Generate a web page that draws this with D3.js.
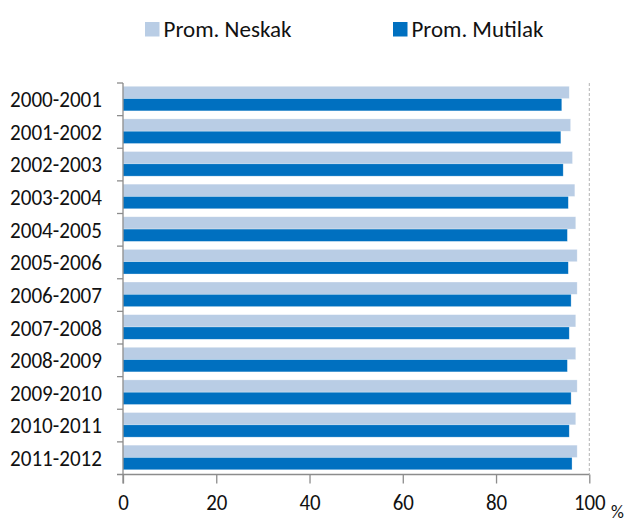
<!DOCTYPE html>
<html>
<head>
<meta charset="utf-8">
<script src="https://cdn.jsdelivr.net/npm/d3@7"></script>
<style>
  html, body { margin: 0; padding: 0; background: #fff; }
  svg { display: block; }
  text { font-family: Carlito, Calibri, Lato, "Open Sans", sans-serif; fill: #111; }
</style>
</head>
<body>
<svg id="chart" width="629" height="522"></svg>
<script>
const categories = ["2000-2001","2001-2002","2002-2003","2003-2004","2004-2005","2005-2006",
                    "2006-2007","2007-2008","2008-2009","2009-2010","2010-2011","2011-2012"];
const seriesNames = ["Prom. Neskak", "Prom. Mutilak"];
const neskak  = [95.7, 96.0, 96.4, 96.9, 97.1, 97.4, 97.4, 97.1, 97.1, 97.4, 97.1, 97.4];
const mutilak = [94.1, 93.9, 94.4, 95.5, 95.3, 95.5, 96.1, 95.7, 95.3, 96.1, 95.7, 96.3];
const xTicks = [0, 20, 40, 60, 80, 100];
const colors = ["#B9CDE5", "#0070C0"];

const svg = d3.select("#chart");
const margin = { left: 123, right: 40, top: 83, bottom: 47.5 };
const W = 629, H = 522;
const x = d3.scaleLinear().domain([0, 100]).range([margin.left, 589.3]);
const y = d3.scaleBand().domain(categories).range([margin.top, H - margin.bottom]).padding(0);
const inner = d3.scaleBand().domain(seriesNames).range([y.bandwidth() * 0.1, y.bandwidth() * 0.855]).padding(0);

const axisColor = "#8c8c8c";

// dashed gridline at 100
svg.append("line")
  .attr("x1", x(100)).attr("x2", x(100))
  .attr("y1", margin.top).attr("y2", H - margin.bottom)
  .attr("stroke", "#b3b3b3").attr("stroke-width", 1).attr("stroke-dasharray", "3,2");

// bars
const data = [neskak, mutilak];
const rows = svg.append("g").selectAll("g").data(categories).join("g")
  .attr("transform", c => `translate(0,${y(c)})`);
rows.selectAll("rect").data((c, i) => seriesNames.map((s, k) => ({ s, k, v: data[k][i] })))
  .join("rect")
  .attr("x", x(0))
  .attr("y", d => inner(d.s))
  .attr("width", d => x(d.v) - x(0))
  .attr("height", inner.bandwidth())
  .attr("fill", d => colors[d.k])
  .attr("stroke", "#ffffff").attr("stroke-opacity", 0.5).attr("stroke-width", 0.6);

// y axis
const yAxisG = svg.append("g").attr("transform", `translate(${x(0)},0)`);
yAxisG.append("line").attr("x1", 0).attr("x2", 0)
  .attr("y1", margin.top).attr("y2", H - margin.bottom + 9)
  .attr("stroke", axisColor).attr("stroke-width", 1.3);
const bounds = categories.map(c => y(c));
yAxisG.selectAll("line.tk").data(bounds).join("line").attr("class", "tk")
  .attr("x1", -6).attr("x2", 0).attr("y1", d => d).attr("y2", d => d)
  .attr("stroke", axisColor).attr("stroke-width", 1.3);
yAxisG.selectAll("text").data(categories).join("text")
  .attr("x", -113).attr("y", c => y(c) + y.bandwidth() / 2)
  .attr("dy", "0.36em")
  .attr("font-size", 22)
  .attr("textLength", 92).attr("lengthAdjust", "spacingAndGlyphs")
  .text(c => c);

// x axis
const xAxis = d3.axisBottom(x).tickValues(xTicks).tickSize(9).tickPadding(11).tickFormat(d3.format("d"));
const xg = svg.append("g").attr("transform", `translate(0,${H - margin.bottom})`).call(xAxis);
xg.select(".domain").remove();
xg.append("line").attr("x1", x(0) - 6).attr("x2", x(100)).attr("y1", 0).attr("y2", 0)
  .attr("stroke", axisColor).attr("stroke-width", 1.3);
xg.selectAll(".tick line").attr("stroke", axisColor).attr("stroke-width", 1.3);
xg.selectAll(".tick text").attr("font-size", 22).attr("fill", "#111")
  .style("font-family", "Carlito, Calibri, Lato, sans-serif")
  .attr("textLength", d => String(d).length * 10.6).attr("lengthAdjust", "spacingAndGlyphs");

svg.append("text").attr("x", 611).attr("y", 518).attr("font-size", 18).text("%");

// legend
const legendX = [145, 393];
const legendW = [128, 132];
const lg = svg.append("g").selectAll("g").data(seriesNames).join("g")
  .attr("transform", (d, i) => `translate(${legendX[i]},22)`);
lg.append("rect").attr("width", 14.5).attr("height", 14.5).attr("fill", (d, i) => colors[i]);
lg.append("text").attr("x", 18.5).attr("y", 7.5).attr("dy", "0.36em").attr("font-size", 22)
  .attr("textLength", (d, i) => legendW[i]).attr("lengthAdjust", "spacingAndGlyphs")
  .text(d => d);
</script>
</body>
</html>
